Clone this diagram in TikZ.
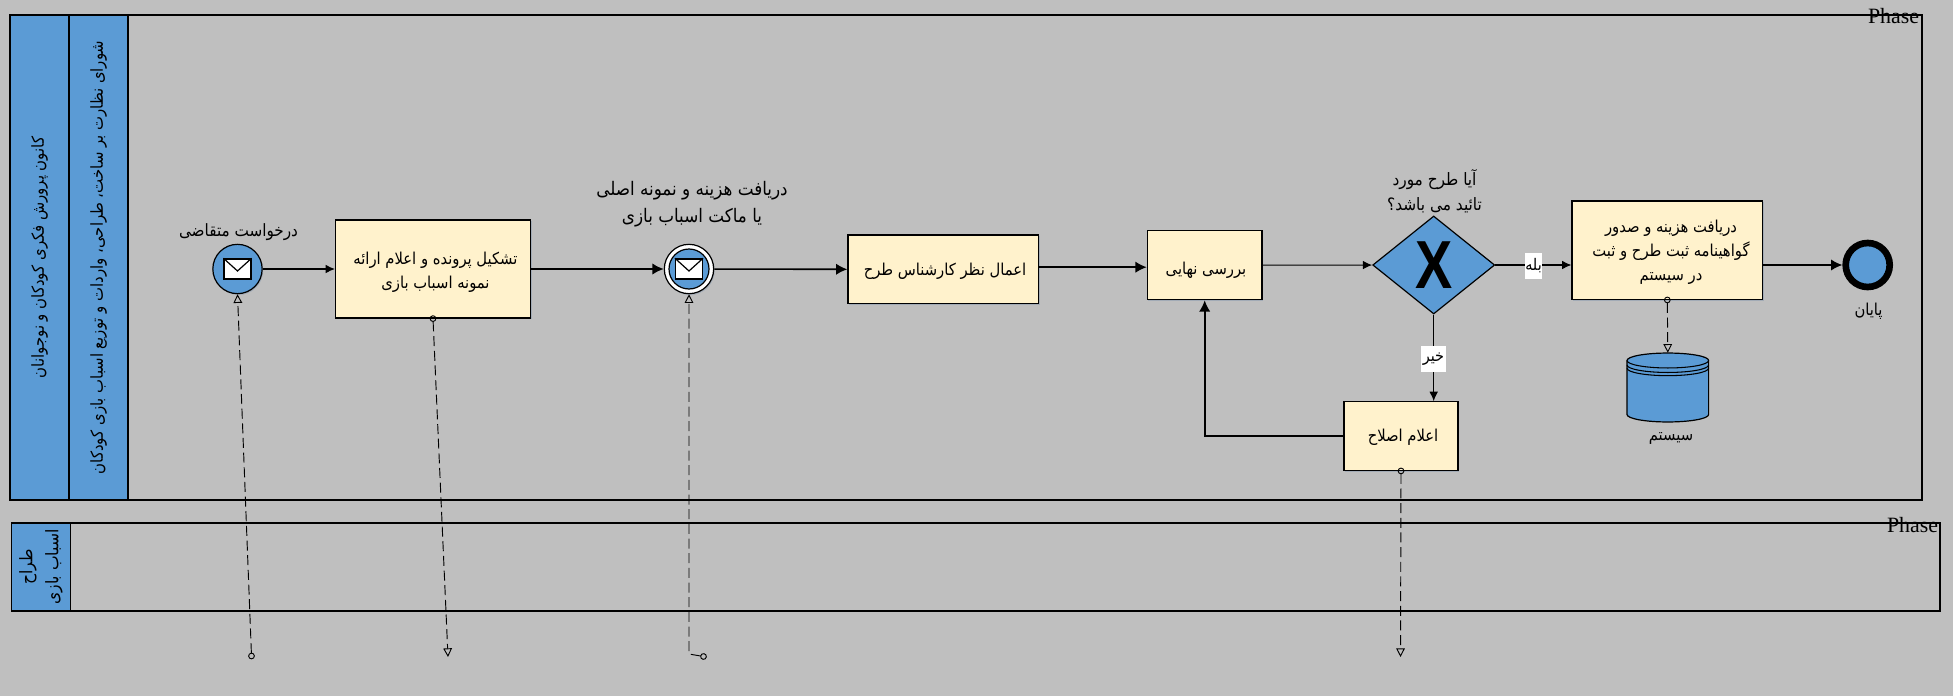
\documentclass[tikz,border=0pt]{standalone}
\usepackage{fontspec}
\usetikzlibrary{arrows.meta, shapes.geometric, shadows}

\TeXXeTstate=1
\newfontfamily\arabicfont[Script=Arabic]{DejaVu Sans Condensed}
\newfontfamily\phasefont{Liberation Serif}
\newfontfamily\markfont{Liberation Sans}
\newcommand{\rtl}[1]{\beginR #1\endR}

\definecolor{sheetgray}{HTML}{BFBFBF}
\definecolor{laneblue}{HTML}{5B9BD5}
\definecolor{taskyellow}{HTML}{FFF2CC}
\definecolor{softshadow}{HTML}{7F93AD}

\begin{document}
\begin{tikzpicture}[x=0.75pt, y=-0.75pt,
    farsi/.style={font=\arabicfont\fontsize{12.3}{18}\selectfont, align=center, inner sep=0pt},
    lanebox/.style={draw, fill=laneblue, line width=1.2pt, rotate=90, inner sep=0pt, align=center, font=\arabicfont\fontsize{12.4}{19}\selectfont},
    phaselabel/.style={font=\phasefont\fontsize{16.4}{16.4}\selectfont, inner sep=0pt},
    softdrop/.style={drop shadow={shadow xshift=0.8pt, shadow yshift=-1pt, fill=softshadow, opacity=0.45}},
    tasknode/.style={draw, fill=taskyellow, line width=0.9pt, inner sep=0pt, softdrop},
    eventnode/.style={draw, circle, fill=laneblue, line width=0.9pt, inner sep=0pt, minimum size=37pt},
    mailnode/.style={draw, fill=white, line width=1.1pt, inner sep=0pt, minimum width=20pt, minimum height=15pt},
    flowthin/.style={line width=0.8pt, -{Latex[length=7pt, width=6.5pt]}},
    flowthick/.style={line width=1.2pt, -{Latex[length=8.5pt, width=8.5pt]}},
    msgflow/.style={line width=0.7pt, dash pattern=on 7.5pt off 3.5pt, shorten <=-2.5pt, {Circle[open, length=5pt, width=5pt]}-{Triangle[open, length=6.5pt, width=6.5pt]}},
    edgelabel/.style={fill=white, inner sep=0pt, font=\arabicfont\fontsize{12}{12}\selectfont}]

    \useasboundingbox[fill=sheetgray] (0, 0) rectangle (1953, 696);

    \draw[line width=1.3pt] (128, 15) rectangle (1922, 500);
    \draw[line width=1.3pt] (70.5, 523) rectangle (1940, 611);
    \node[lanebox, minimum width=363.75pt, minimum height=44pt] (orgbox) at (39.5, 257.5) {\rtl{کانون پرورش فکری کودکان و نوجوانان}};
    \node[lanebox, minimum width=363.75pt, minimum height=44.5pt] (councilbox) at (98.5, 257.5) {\rtl{شورای نظارت بر ساخت، طراحی، واردات و توزیع اسباب بازی کودکان}};
    \node[lanebox, minimum width=66pt, minimum height=44pt, font=\arabicfont\fontsize{13}{19.5}\selectfont] (designerbox) at (41, 567) {\rtl{طراح}\\\rtl{اسباب بازی}};
    \node[phaselabel] (phaseone) at (1893.5, 16) {Phase};
    \node[phaselabel] (phasetwo) at (1912.5, 525) {Phase};

    \node[eventnode, softdrop] (eventone) at (237.5, 269) {};
    \node[mailnode] (mailone) at (237.5, 269) {};
    \draw[line width=0.9pt] (mailone.north west) -- ([yshift=-1.5pt]mailone.center) -- (mailone.north east);
    \node[farsi, font=\arabicfont\fontsize{12.7}{18}\selectfont] (eventonetext) at (238.5, 232) {\rtl{درخواست متقاضی}};

    \node[tasknode, minimum width=146.25pt, minimum height=73.5pt] (taskone) at (433, 269) {};
    \node[farsi] (taskonetext) at (435.5, 272) {\rtl{تشکیل پرونده و اعلام ارائه}\\\rtl{نمونه اسباب بازی}};

    \node[eventnode, fill=white, softdrop] (eventtwo) at (689, 269) {};
    \node[eventnode, minimum size=30pt] (eventtwoinner) at (689, 269) {};
    \node[mailnode] (mailtwo) at (689, 269) {};
    \draw[line width=0.9pt] (mailtwo.north west) -- ([yshift=-1.5pt]mailtwo.center) -- (mailtwo.north east);
    \node[farsi, font=\arabicfont\fontsize{14}{20}\selectfont] (eventtwotext) at (692, 204) {\rtl{دریافت هزینه و نمونه اصلی}\\\rtl{یا ماکت اسباب بازی}};

    \node[tasknode, minimum width=143pt, minimum height=51.5pt] (tasktwo) at (943.3, 269.3) {};
    \node[farsi] (tasktwotext) at (945, 271.5) {\rtl{اعمال نظر کارشناس طرح}};

    \node[tasknode, minimum width=86pt, minimum height=51.75pt] (taskthree) at (1204.7, 265.2) {};
    \node[farsi] (taskthreetext) at (1206, 270.5) {\rtl{بررسی نهایی}};

    \node[draw, diamond, fill=laneblue, line width=0.9pt, inner sep=0pt, minimum width=91.5pt, minimum height=73.5pt] (gate) at (1433.7, 265) {};
    \node[inner sep=0pt, font=\markfont\bfseries\fontsize{51}{51}\selectfont] (gatemark) at (1433.7, 265) {\scalebox{0.82}[1]{X}};
    \node[farsi, font=\arabicfont\fontsize{12.8}{18.5}\selectfont] (gatetext) at (1434.5, 191.5) {\rtl{آیا طرح مورد}\\\rtl{تائید می باشد؟}};

    \node[tasknode, minimum width=143pt, minimum height=73.75pt] (taskfour) at (1667.3, 250.2) {};
    \node[farsi] (taskfourtext) at (1671, 252) {\rtl{دریافت هزینه و صدور}\\\rtl{گواهینامه ثبت طرح و ثبت}\\\rtl{در سیستم}};

    \node[draw, circle, fill=laneblue, line width=5pt, inner sep=0pt, minimum size=33pt] (endevent) at (1867.7, 265) {};
    \node[farsi] (endtext) at (1868.5, 311) {\rtl{پایان}};

    \node[tasknode, minimum width=85.5pt, minimum height=51.5pt] (taskfive) at (1401, 436) {};
    \node[farsi] (taskfivetext) at (1403, 437.5) {\rtl{اعلام اصلاح}};

    \node[inner sep=0pt, minimum width=61pt, minimum height=51.75pt] (store) at (1667.8, 387.5) {};
    \draw[fill=laneblue, line width=0.9pt] (1627, 360.5) arc[start angle=180, end angle=0, x radius=30.6pt, y radius=5.6pt] -- (1708.6, 414.5) arc[start angle=0, end angle=-180, x radius=30.6pt, y radius=5.6pt] -- cycle;
    \draw[line width=0.8pt] (1627, 360.5) arc[start angle=180, end angle=360, x radius=30.6pt, y radius=5.6pt];
    \draw[line width=0.8pt] (1627, 365) arc[start angle=180, end angle=360, x radius=30.6pt, y radius=5.6pt];
    \draw[line width=0.8pt] (1627, 368.2) arc[start angle=180, end angle=360, x radius=30.6pt, y radius=5.6pt];
    \node[farsi] (storetext) at (1671, 438) {\rtl{سیستم}};

    \draw[flowthin] (eventone) -- (taskone);
    \draw[flowthick] (taskone) -- (eventtwo);
    \draw[flowthick] (eventtwo) -- (tasktwo.west);
    \draw[flowthick] ([yshift=-1.5pt]tasktwo.east |- taskthree.west) -- ([yshift=-1.5pt]taskthree.west);
    \draw[flowthin] (taskthree) -- (gate);
    \draw[flowthin] (gate) -- (taskfour.west |- gate);
    \draw[flowthick] (taskfour.east |- endevent) -- (endevent);
    \draw[flowthin] (gate) -- (gate |- taskfive.north);
    \draw[flowthick] (taskfive.west) -| (taskthree.south);

    \node[edgelabel, minimum width=12.75pt, minimum height=19.5pt] (yeslabel) at (1533.5, 266) {\rtl{بله}};
    \node[edgelabel, minimum width=18.75pt, minimum height=19.5pt] (nolabel) at (1433.5, 359) {\rtl{خیر}};

    \coordinate (requesttail) at (251.5, 656);
    \coordinate (fileend) at (448, 657);
    \coordinate (sampletail) at (703.5, 656.5);
    \coordinate (samplebend) at (689, 654);
    \coordinate (fixend) at (1400.5, 657);

    \draw[msgflow] (requesttail) -- (eventone.south);
    \draw[msgflow] (taskone.south) -- (fileend);
    \draw[msgflow] (sampletail) -- (samplebend) -- (eventtwo.south);
    \draw[msgflow] (taskfive.south) -- (fixend);
    \draw[msgflow] (taskfour.south) -- (store.north);

\end{tikzpicture}
\end{document}
